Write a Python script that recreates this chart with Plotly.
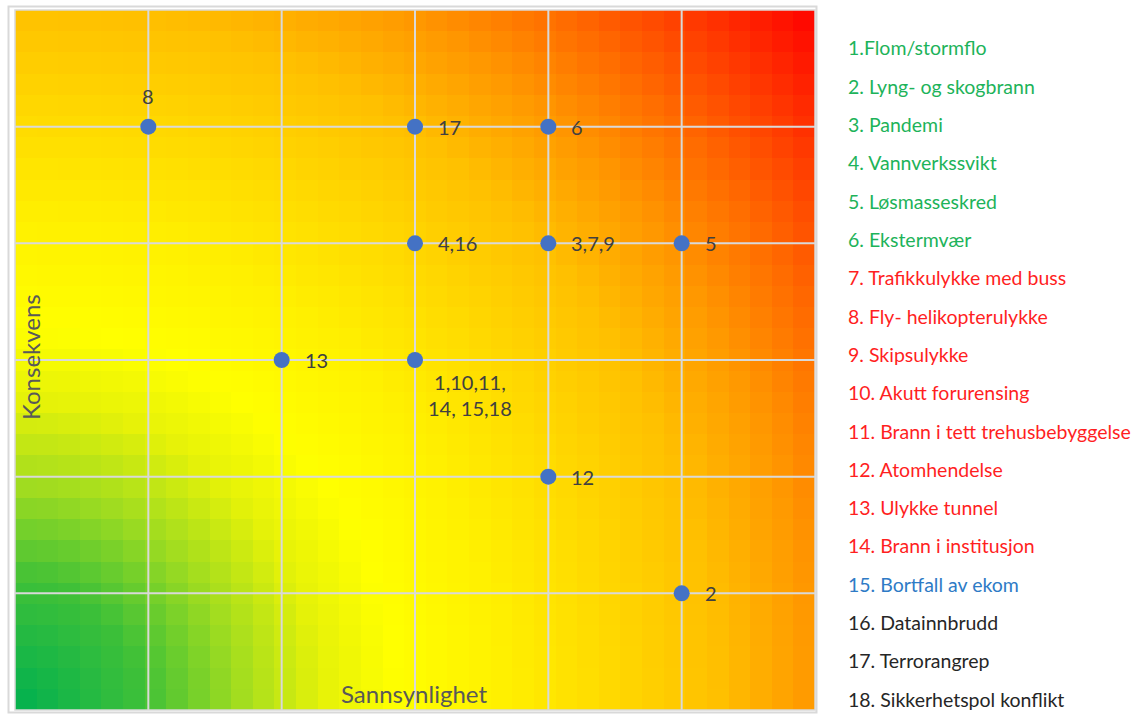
import numpy as np
import plotly.graph_objects as go

# Risk points: probability (x) vs consequence (y), with the event numbers at each point
point_x = [1, 3, 4, 3, 4, 5, 2, 3, 4, 5]
point_y = [5, 5, 5, 4, 4, 4, 3, 3, 2, 1]
point_labels = ["8", "17", "6", "4,16", "3,7,9", "5", "13",
                "1,10,11,<br>14, 15,18", "12", "2"]

# Event list shown at the right
events = [
    "1.Flom/stormflo",
    "2. Lyng- og skogbrann",
    "3. Pandemi",
    "4. Vannverkssvikt",
    "5. Løsmasseskred",
    "6. Ekstermvær",
    "7. Trafikkulykke med buss",
    "8. Fly- helikopterulykke",
    "9. Skipsulykke",
    "10. Akutt forurensing",
    "11. Brann i tett trehusbebyggelse",
    "12. Atomhendelse",
    "13. Ulykke tunnel",
    "14. Brann i institusjon",
    "15. Bortfall av ekom",
    "16. Datainnbrudd",
    "17. Terrorangrep",
    "18. Sikkerhetspol konflikt",
]
event_groups = ["nat"] * 6 + ["acc"] * 8 + ["com"] + ["sec"] * 3
group_colors = {"nat": "#1DB35A", "acc": "#FF1F1F", "com": "#2E7BC6", "sec": "#262626"}

grid_ticks = [1, 2, 3, 4, 5]
axis_range = [0, 6]

# Plot area geometry (pixels)
PX_W, PX_H = 800, 700
M_L, M_T = 15, 10
FIG_W, FIG_H = 1135, 714

FONT = "Lato, Liberation Sans, sans-serif"

# Background risk gradient (green -> yellow -> orange -> red from lower left corner)
nx, ny = 37, 33
xc = (np.arange(nx) + 0.5) / nx * axis_range[1]
yc = (np.arange(ny) + 0.5) / ny * axis_range[1]
XX, YY = np.meshgrid(xc / axis_range[1] * PX_W, yc / axis_range[1] * PX_H)
bg_z = np.sqrt(XX ** 2 + YY ** 2) / np.hypot(PX_W, PX_H)

risk_scale = [
    [0.00, "#00B050"],
    [0.12, "#3EC038"],
    [0.21, "#A0DC20"],
    [0.29, "#E6F208"],
    [0.36, "#FFFF00"],
    [0.46, "#FFF000"],
    [0.56, "#FFD900"],
    [0.66, "#FFC000"],
    [0.75, "#FF9800"],
    [0.83, "#FF6C00"],
    [0.91, "#FF3A00"],
    [1.00, "#FF0000"],
]

fig = go.Figure()
fig.add_trace(go.Heatmap(
    x=xc, y=yc, z=bg_z, zmin=0, zmax=1, colorscale=risk_scale,
    showscale=False, zsmooth=False, hoverinfo="skip",
))

# Gridlines drawn as line traces so they sit above the gradient but below the markers
grid_color = "#D9D9D9"
for t in grid_ticks:
    fig.add_trace(go.Scatter(x=[t, t], y=axis_range, mode="lines",
                             line=dict(color=grid_color, width=2),
                             hoverinfo="skip", showlegend=False, cliponaxis=False))
    fig.add_trace(go.Scatter(x=axis_range, y=[t, t], mode="lines",
                             line=dict(color=grid_color, width=2),
                             hoverinfo="skip", showlegend=False, cliponaxis=False))

shapes = [
    # plot border
    dict(type="rect", xref="paper", yref="paper", x0=0, x1=1, y0=0, y1=1,
         line=dict(color=grid_color, width=1.5), layer="above"),
    # outer chart frame
    dict(type="rect", xref="paper", yref="paper",
         x0=-6.5 / PX_W, x1=1 + 1.5 / PX_W, y0=-2.5 / PX_H, y1=1 + 3.5 / PX_H,
         line=dict(color="#D9D9D9", width=2), layer="above"),
]

fig.add_trace(go.Scatter(
    x=point_x, y=point_y, mode="markers",
    marker=dict(size=16, color="#4472C4", line=dict(width=0)),
    hoverinfo="skip", showlegend=False,
))

annotations = []
label_font = dict(family=FONT, size=20, color="#404040")
for x, y, lab in zip(point_x, point_y, point_labels):
    if lab == "8":
        annotations.append(dict(x=x, y=y, text=lab, showarrow=False, xanchor="center",
                                yanchor="middle", yshift=31, font=label_font))
    elif "<br>" in lab:
        annotations.append(dict(x=x, y=y, text=lab, showarrow=False, xanchor="center",
                                yanchor="top", xshift=55, yshift=-8, align="center",
                                font=label_font))
    else:
        annotations.append(dict(x=x, y=y, text=lab, showarrow=False, xanchor="left",
                                yanchor="middle", xshift=21, font=label_font))

title_font = dict(family=FONT, size=24, color="#595959")
annotations.append(dict(xref="paper", yref="paper", x=(414 - M_L) / PX_W, y=(M_T + PX_H - 693) / PX_H,
                        text="Sannsynlighet", showarrow=False, xanchor="center",
                        yanchor="middle", font=title_font))
annotations.append(dict(xref="paper", yref="paper", x=(31 - M_L) / PX_W, y=(M_T + PX_H - 357) / PX_H,
                        text="Konsekvens", showarrow=False, textangle=-90, xanchor="center",
                        yanchor="middle", font=title_font))

list_top, list_step = 48, 38.3
for i, (name, grp) in enumerate(zip(events, event_groups)):
    py = list_top + i * list_step
    annotations.append(dict(
        xref="paper", yref="paper",
        x=(846 - M_L) / PX_W, y=(M_T + PX_H - py) / PX_H,
        text=name, showarrow=False, xanchor="left", yanchor="middle",
        font=dict(family=FONT, size=19.5, color=group_colors[grp]),
    ))

axis_common = dict(range=axis_range, showgrid=False, zeroline=False, showticklabels=False,
                   ticks="", showline=False, fixedrange=True)
fig.update_layout(
    width=FIG_W, height=FIG_H,
    margin=dict(l=M_L, r=FIG_W - M_L - PX_W, t=M_T, b=FIG_H - M_T - PX_H, pad=0),
    paper_bgcolor="white", plot_bgcolor="white",
    xaxis=axis_common, yaxis=axis_common,
    shapes=shapes, annotations=annotations, showlegend=False,
)

fig.write_html("out.html")
